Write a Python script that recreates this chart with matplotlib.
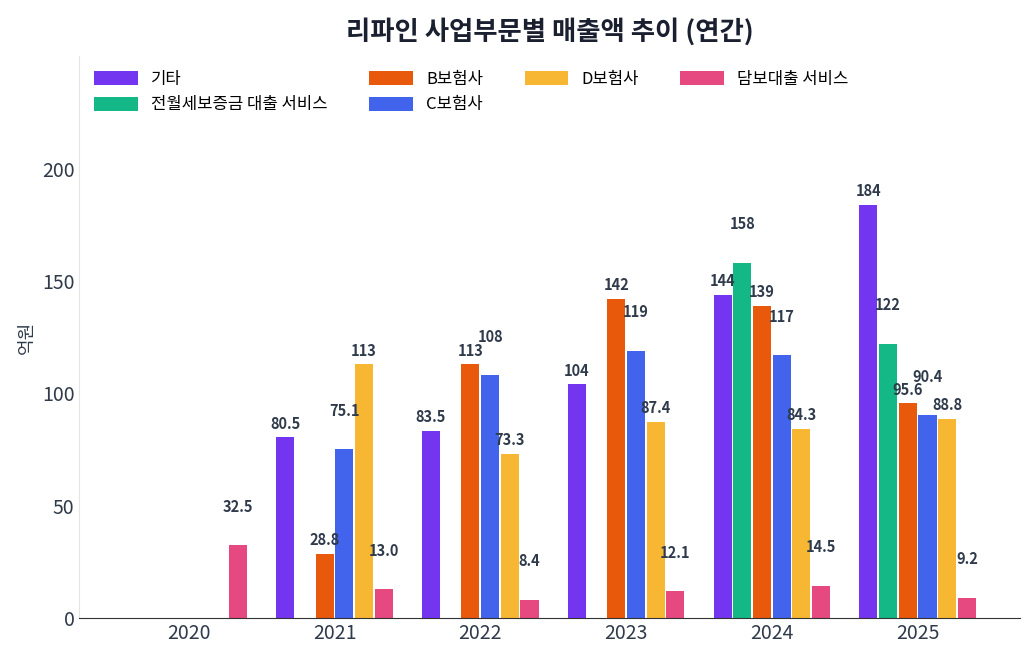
import matplotlib
matplotlib.use("Agg")
import matplotlib.pyplot as plt
import numpy as np

plt.rcParams['font.family'] = ['Noto Sans CJK KR', 'DejaVu Sans']

years = ["2020", "2021", "2022", "2023", "2024", "2025"]
series_names = ["기타", "전월세보증금 대출 서비스", "B보험사", "C보험사", "D보험사", "담보대출 서비스"]
colors = ["#7335F0", "#14B886", "#E8590C", "#4263EB", "#F7B733", "#E64980"]
etc_vals = [0, 80.5, 83.5, 104, 144, 184]
deposit_vals = [0, 0, 0, 0, 158, 122]
b_vals = [0, 28.8, 113, 142, 139, 95.6]
c_vals = [0, 75.1, 108, 119, 117, 90.4]
d_vals = [0, 113, 73.3, 87.4, 84.3, 88.8]
loan_vals = [32.5, 13.0, 8.4, 12.1, 14.5, 9.2]
all_vals = [etc_vals, deposit_vals, b_vals, c_vals, d_vals, loan_vals]

fig, ax = plt.subplots(figsize=(10.3, 6.6), dpi=100)
x = np.arange(len(years))
width = 0.135
for i, (name, vals, col) in enumerate(zip(series_names, all_vals, colors)):
    pos = x + (i - 2.5) * width
    ax.bar(pos, vals, width * 0.92, color=col, label=name, zorder=2)
    for p, v in zip(pos, vals):
        if v <= 0:
            continue
        txt = f"{v:.1f}" if v < 100 else f"{v:.0f}"
        off = 4 if i % 2 == 0 else 22
        ax.annotate(txt, xy=(p, v), xytext=(0, off), textcoords="offset points",
                    ha="center", va="bottom", fontsize=10.5, fontweight="bold",
                    color="#2F3A4A")

ax.set_xticks(x)
ax.set_xticklabels(years, fontsize=14, color="#2F3A4A")
ax.tick_params(axis="y", labelsize=14, colors="#2F3A4A", length=0)
ax.tick_params(axis="x", length=0)
ax.set_ylim(0, 250)
ax.set_yticks([0, 50, 100, 150, 200])
ax.set_xlim(-0.75, 5.7)
ax.set_ylabel("억원", fontsize=13, color="#2F3A4A")
ax.set_title("리파인 사업부문별 매출액 추이 (연간)", fontsize=19, fontweight="bold",
             color="#1A2030", pad=12)
for s in ["top", "right"]:
    ax.spines[s].set_visible(False)
ax.spines["left"].set_color("#E5E5E5")
ax.spines["bottom"].set_color("#333333")
ax.legend(loc="upper left", ncol=4, frameon=False, fontsize=12,
          handlelength=2.6, handleheight=0.9, columnspacing=2.5)

plt.subplots_adjust(left=0.077, right=0.99, top=0.915, bottom=0.063)
plt.savefig("out.png", dpi=100)
